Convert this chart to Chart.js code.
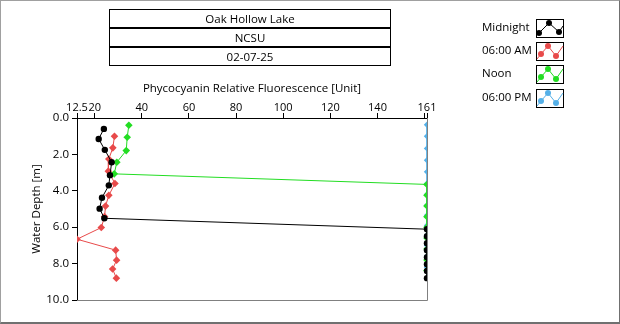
<!DOCTYPE html>
<html>
<head>
<meta charset="utf-8">
<script src="https://cdn.jsdelivr.net/npm/chart.js@4/dist/chart.umd.min.js"></script>
<style>
  html, body { margin: 0; padding: 0; background: #fff; }
  #wrap { position: relative; width: 620px; height: 324px; font-family: "Open Sans", sans-serif; font-size: 11.5px; color: #000; }
  #chart { position: absolute; left: 0; top: 0; }
  #frame { position: absolute; left: 0; top: 0; width: 620px; height: 324px; box-sizing: border-box;
           border: 1px solid #a0a0a0; border-bottom: 2px solid #707070; border-right: 1px solid #707070; pointer-events: none; }
  .cell { position: absolute; left: 109px; width: 282px; height: 19px; box-sizing: border-box;
          border: 1px solid #000; text-align: center; line-height: 17px; }
  .lbl { position: absolute; left: 482px; line-height: 16px; }
</style>
</head>
<body>
<div id="wrap">
  <canvas id="chart" width="620" height="324"></canvas>
  <div class="cell" style="top:9px">Oak Hollow Lake</div>
  <div class="cell" style="top:28px">NCSU</div>
  <div class="cell" style="top:47px">02-07-25</div>
  <div class="lbl" style="top:19px">Midnight</div>
  <div class="lbl" style="top:42px">06:00 AM</div>
  <div class="lbl" style="top:65px">Noon</div>
  <div class="lbl" style="top:89px">06:00 PM</div>
  <div id="frame"></div>
</div>
<script>
// profile readings: depth [m] and fluorescence per cast
const midnightDepth = [0.6, 1.15, 1.75, 2.43, 3.14, 3.7, 4.38, 4.98, 5.51, 6.11, 6.5, 6.88, 7.26, 7.65, 8.03, 8.41, 8.8];
const midnightValue = [23.9, 21.7, 24.3, 27.2, 26.5, 26.0, 23.1, 22.1, 24.1, 161, 161, 161, 161, 161, 161, 161, 161];

const amDepth = [1.0, 1.64, 2.25, 2.92, 3.6, 4.25, 4.84, 5.42, 6.02, 6.66, 7.26, 7.81, 8.3, 8.8];
const amValue = [28.4, 27.7, 26.0, 25.8, 28.6, 26.0, 24.6, 24.2, 22.8, 12.5, 28.9, 29.3, 27.6, 29.2];

const noonDepth = [0.4, 1.06, 1.79, 2.43, 3.07, 3.65, 4.24, 4.83, 5.42, 6.0, 6.6, 7.2, 7.8, 8.38];
const noonValue = [34.5, 33.8, 33.4, 29.4, 28.3, 161, 161, 161, 161, 161, 161, 161, 161, 161];

const pmDepth = [0.37, 1.0, 1.67, 2.32, 2.96, 3.6, 4.2, 4.8, 5.35, 5.9, 6.44, 7.0, 7.6, 8.2, 8.8];
const pmValue = [161, 161, 161, 161, 161, 161, 161, 161, 161, 161, 161, 161, 161, 161, 161];

const xTicks = [12.5, 20, 40, 60, 80, 100, 120, 140, 160, 161];
const yTicks = [0, 2, 4, 6, 8, 10];

const casts = [
  { label: 'Midnight', depth: midnightDepth, value: midnightValue, color: '#000000', style: 'circle',  r: 3.2 },
  { label: '06:00 AM', depth: amDepth,       value: amValue,       color: '#e84a4a', style: 'rectRot', r: 3.8 },
  { label: 'Noon',     depth: noonDepth,     value: noonValue,     color: '#22dd22', style: 'rectRot', r: 3.8 },
  { label: '06:00 PM', depth: pmDepth,       value: pmValue,       color: '#55b0e8', style: 'rectRot', r: 3.2 },
];

const FONT = { family: '"Open Sans", sans-serif', size: 11.5 };
const TICK_FONT = { family: '"Open Sans", sans-serif', size: 11 };

// gray right/bottom edges of the plot plus the little legend swatches
const framePlugin = {
  id: 'frame',
  afterDraw(chart) {
    const { ctx, chartArea: a } = chart;
    ctx.save();
    ctx.strokeStyle = '#808080';
    ctx.lineWidth = 1;
    ctx.beginPath();
    ctx.moveTo(a.left, a.bottom + 0.5);
    ctx.lineTo(a.right + 0.5, a.bottom + 0.5);
    ctx.lineTo(a.right + 0.5, a.top);
    ctx.stroke();

    const boxY = [19, 42, 65, 89];
    casts.forEach((c, i) => {
      const bx = 536, by = boxY[i];
      ctx.fillStyle = '#fff';
      ctx.fillRect(bx, by, 27, 18);
      ctx.strokeStyle = '#000';
      ctx.strokeRect(bx + 0.5, by + 0.5, 27, 18);
      const pts = i === 0
        ? [[bx + 3, by + 14], [bx + 13, by + 4], [bx + 23, by + 13], [bx + 27, by + 7]]
        : [[bx + 1, by + 17], [bx + 5, by + 12], [bx + 12, by + 4], [bx + 20, by + 14], [bx + 27, by + 4]];
      ctx.strokeStyle = c.color;
      ctx.beginPath();
      pts.forEach(([x, y], k) => k ? ctx.lineTo(x, y) : ctx.moveTo(x, y));
      ctx.stroke();
      ctx.fillStyle = c.color;
      const marks = i === 0 ? pts.slice(0, 3) : pts.slice(1, 4);
      marks.forEach(([x, y]) => { ctx.beginPath(); ctx.arc(x, y, 3, 0, Math.PI * 2); ctx.fill(); });
    });
    ctx.restore();
  },
};

new Chart(document.getElementById('chart'), {
  type: 'scatter',
  data: {
    datasets: casts.map(c => ({
      label: c.label,
      data: c.depth.map((d, k) => ({ x: c.value[k], y: d })),
      showLine: true,
      borderColor: c.color,
      backgroundColor: c.color,
      borderWidth: 1,
      pointStyle: c.style,
      pointRadius: c.r,
      pointBorderWidth: 0,
      pointBackgroundColor: c.color,
      clip: 0,
    })),
  },
  options: {
    responsive: false,
    animation: false,
    layout: { padding: { left: 28, top: 78, right: 193, bottom: 24 } },
    plugins: { legend: { display: false }, tooltip: { enabled: false } },
    scales: {
      x: {
        type: 'linear', position: 'top', min: 12.5, max: 161,
        afterBuildTicks: s => { s.ticks = xTicks.map(v => ({ value: v })); },
        afterFit: s => { s.height = 40; },
        ticks: { autoSkip: false, maxRotation: 0, color: '#000', font: TICK_FONT, padding: -1,
                 callback: v => v === 160 ? '' : String(v) },
        grid: { drawOnChartArea: false, tickLength: 5, color: '#000' },
        border: { color: '#000' },
        title: { display: true, text: 'Phycocyanin Relative Fluorescence [Unit]', color: '#000', font: FONT,
                 padding: { top: 4, bottom: 0 } },
      },
      y: {
        type: 'linear', reverse: true, min: 0, max: 10,
        afterBuildTicks: s => { s.ticks = yTicks.map(v => ({ value: v })); },
        afterFit: s => { s.width = 49; },
        ticks: { color: '#000', font: FONT, padding: 3, callback: v => v.toFixed(1) },
        grid: { drawOnChartArea: false, tickLength: 5, color: '#000' },
        border: { color: '#000' },
        title: { display: true, text: 'Water Depth [m]', color: '#000', font: FONT,
                 padding: { top: 2, bottom: 0 } },
      },
    },
  },
  plugins: [framePlugin],
});
</script>
</body>
</html>
